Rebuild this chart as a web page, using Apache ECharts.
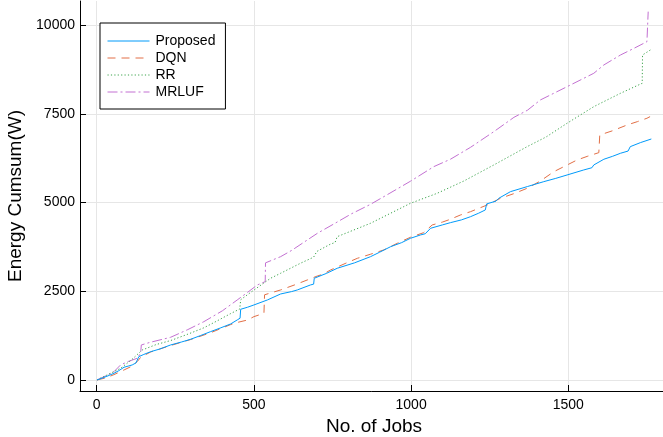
<!DOCTYPE html>
<html>
<head>
<meta charset="utf-8">
<script src="https://cdn.jsdelivr.net/npm/echarts@6/dist/echarts.min.js"></script>
<style>html,body{margin:0;padding:0;background:#fff}#c{width:663px;height:437px}</style>
</head>
<body>
<div id="c"></div>
<script>
var seriesNames = ['Proposed', 'DQN', 'RR', 'MRLUF'];
var xTicks = [0, 500, 1000, 1500];
var yTicks = [0, 2500, 5000, 7500, 10000];

var proposed = [[1,0],[20,60],[40,130],[55,189],[70,260],[87,358],[100,390],[113,423],[125,480],[134,656],[150,720],[172,797],[200,870],[235,986],[270,1070],[299,1147],[330,1250],[362,1361],[395,1470],[426,1578],[447,1691],[456,1740],[458,1992],[480,2050],[500,2113],[543,2254],[585,2423],[620,2490],[638,2536],[680,2677],[690,2700],[692,2866],[730,3000],[765,3147],[820,3300],[871,3474],[900,3600],[935,3756],[970,3870],[998,3992],[1030,4086],[1045,4120],[1062,4274],[1100,4370],[1125,4432],[1160,4510],[1189,4601],[1215,4700],[1236,4790],[1240,4959],[1270,5040],[1279,5120],[1316,5306],[1370,5450],[1422,5588],[1460,5680],[1496,5776],[1549,5917],[1575,5980],[1581,6058],[1613,6219],[1640,6300],[1666,6388],[1690,6450],[1697,6574],[1730,6690],[1764,6790]];

var dqn = [[1,0],[30,60],[55,150],[87,282],[110,380],[129,516],[140,640],[172,790],[235,970],[299,1140],[362,1330],[426,1560],[447,1620],[480,1690],[500,1784],[532,1878],[534,2400],[560,2470],[585,2536],[630,2680],[670,2818],[702,2930],[720,2980],[744,3100],[790,3280],[829,3428],[870,3540],[913,3663],[956,3851],[998,4021],[1040,4151],[1067,4367],[1100,4450],[1125,4528],[1157,4649],[1189,4742],[1242,4931],[1284,5119],[1330,5260],[1369,5401],[1410,5600],[1454,5869],[1490,6030],[1528,6199],[1560,6300],[1597,6405],[1600,6903],[1640,7020],[1687,7185],[1720,7280],[1750,7374],[1760,7420]];

var rr = [[1,0],[40,170],[76,329],[110,560],[145,845],[190,1000],[235,1110],[290,1290],[341,1470],[380,1650],[426,1870],[455,2000],[458,2260],[490,2470],[553,2865],[585,3006],[648,3288],[690,3460],[700,3620],[744,3830],[758,3870],[765,4038],[871,4415],[998,4978],[1083,5260],[1168,5607],[1263,6058],[1369,6574],[1430,6850],[1496,7233],[1581,7701],[1602,7795],[1666,8078],[1735,8360],[1736,9157],[1761,9298]];

var mrluf = [[1,0],[30,120],[55,234],[76,423],[100,520],[129,611],[140,760],[142,986],[170,1060],[235,1202],[290,1420],[341,1643],[400,1950],[447,2254],[480,2470],[511,2677],[536,2770],[537,3300],[585,3474],[620,3650],[670,3945],[702,4133],[765,4450],[810,4680],[871,4950],[930,5250],[998,5600],[1072,6010],[1125,6219],[1189,6555],[1263,6996],[1327,7400],[1370,7600],[1411,7889],[1496,8264],[1581,8641],[1613,8876],[1666,9157],[1710,9350],[1750,9532],[1752,9560],[1754,10378]];

var colors = ['#009AFA', '#E26F46', '#3DA44D', '#C371D2'];
var dashes = ['solid', [8, 6], [1.2, 2.2], [10, 3, 2, 3]];
var datasets = [proposed, dqn, rr, mrluf];

var chart = echarts.init(document.getElementById('c'), null, {renderer: 'canvas'});
var font = '"Liberation Sans", Arial, Helvetica, sans-serif';

var series = seriesNames.map(function (n, i) {
  return {
    name: n, type: 'line', data: datasets[i], symbol: 'none', showSymbol: false,
    lineStyle: {color: colors[i], width: 1, type: dashes[i]},
    itemStyle: {color: colors[i]},
    z: 10 - i
  };
});

function plain(v) { return String(v); }

chart.setOption({
  animation: false,
  backgroundColor: '#fff',
  textStyle: {fontFamily: font},
  grid: {left: 80, top: 1, width: 588, height: 390, containLabel: false, outerBoundsMode: 'none'},
  legend: {
    orient: 'vertical', left: 100, top: 23,
    data: seriesNames,
    itemWidth: 42, itemHeight: 14, itemGap: 3,
    padding: [11, 10, 10, 7],
    borderColor: '#000', borderWidth: 1, backgroundColor: '#fff',
    itemStyle: {color: 'rgba(0,0,0,0)', borderWidth: 0, opacity: 0},
    lineStyle: {width: 1},
    textStyle: {fontSize: 14, color: '#000', fontFamily: font, padding: [0, 0, 0, 1]}
  },
  xAxis: {
    type: 'value', min: -53, max: 1817,
    name: 'No. of Jobs', nameLocation: 'middle', nameGap: 23,
    nameTextStyle: {fontSize: 19, color: '#000', fontFamily: font},
    axisLine: {show: true, onZero: false, lineStyle: {color: '#000', width: 1}},
    axisTick: {show: true, inside: true, length: 6, customValues: xTicks, lineStyle: {color: '#000'}},
    axisLabel: {show: true, customValues: xTicks, formatter: plain, fontSize: 14, color: '#000', margin: 7, fontFamily: font},
    splitLine: {show: true, customValues: xTicks, lineStyle: {color: '#e6e6e6', width: 1}}
  },
  yAxis: {
    type: 'value', min: -311, max: 10678,
    name: 'Energy Cumsum(W)', nameLocation: 'middle', nameGap: 42,
    nameTextStyle: {fontSize: 19, color: '#000', fontFamily: font},
    axisLine: {show: true, onZero: false, lineStyle: {color: '#000', width: 1}},
    axisTick: {show: true, inside: true, length: 6, customValues: yTicks, lineStyle: {color: '#000'}},
    axisLabel: {show: true, customValues: yTicks, formatter: plain, fontSize: 14, color: '#000', margin: 5, fontFamily: font},
    splitLine: {show: true, customValues: yTicks, lineStyle: {color: '#e6e6e6', width: 1}}
  },
  series: series
});
</script>
</body>
</html>
